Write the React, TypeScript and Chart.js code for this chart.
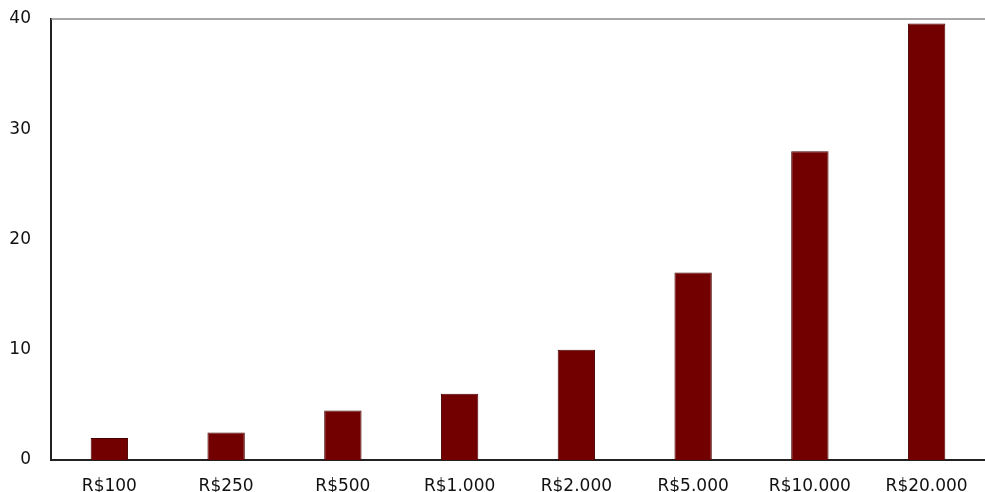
import React, { useEffect, useRef } from "react";
import { Chart, registerables } from "chart.js";

Chart.register(...registerables);

const categories = ["R$100", "R$250", "R$500", "R$1.000", "R$2.000", "R$5.000", "R$10.000", "R$20.000"];
const values = [2.0, 2.5, 4.5, 6.0, 10.0, 17.0, 28.0, 39.6];
const yTicks = [0, 10, 20, 30, 40];

const topBorder = {
  id: "topBorder",
  afterDraw(chart: any) {
    const { ctx, chartArea } = chart;
    ctx.save();
    ctx.strokeStyle = "#8a8a8a";
    ctx.lineWidth = 1.5;
    ctx.beginPath();
    ctx.moveTo(chartArea.left, chartArea.top);
    ctx.lineTo(chart.width, chartArea.top);
    ctx.stroke();
    ctx.restore();
  },
};

export default function App() {
  const ref = useRef<HTMLCanvasElement>(null);
  useEffect(() => {
    document.body.style.margin = "0";
    const chart = new Chart(ref.current!, {
      type: "bar",
      data: {
        labels: categories,
        datasets: [
          {
            data: values,
            backgroundColor: "#730000",
            borderColor: "#4a0000",
            borderWidth: 1,
            categoryPercentage: 1,
            barPercentage: 0.32,
          },
        ],
      },
      options: {
        responsive: false,
        animation: false,
        maintainAspectRatio: false,
        layout: { padding: { top: 19, right: 0, left: 0, bottom: 0 } },
        plugins: { legend: { display: false }, tooltip: { enabled: false } },
        scales: {
          x: {
            grid: { display: false, drawTicks: false },
            border: { color: "#222", width: 2 },
            ticks: {
              color: "#111",
              font: { family: "DejaVu Sans", size: 17 },
              padding: 16,
              maxRotation: 0,
              autoSkip: false,
            },
            afterFit(scale: any) {
              scale.height = 32;
              scale.paddingLeft = 0;
              scale.paddingRight = 0;
            },
          },
          y: {
            min: 0,
            max: 40,
            grid: { display: false, drawTicks: false },
            border: { color: "#222", width: 2 },
            afterBuildTicks(scale: any) {
              scale.ticks = yTicks.map((v) => ({ value: v }));
            },
            ticks: {
              color: "#111",
              font: { family: "DejaVu Sans", size: 17 },
              padding: 20,
            },
            afterFit(scale: any) {
              scale.width = 51;
              scale.paddingTop = 0;
              scale.paddingBottom = 0;
            },
          },
        },
      },
      plugins: [topBorder],
    });
    return () => chart.destroy();
  }, []);
  return (
    <div style={{ width: 985, height: 492 }}>
      <canvas ref={ref} width={985} height={492} style={{ display: "block" }} />
    </div>
  );
}
